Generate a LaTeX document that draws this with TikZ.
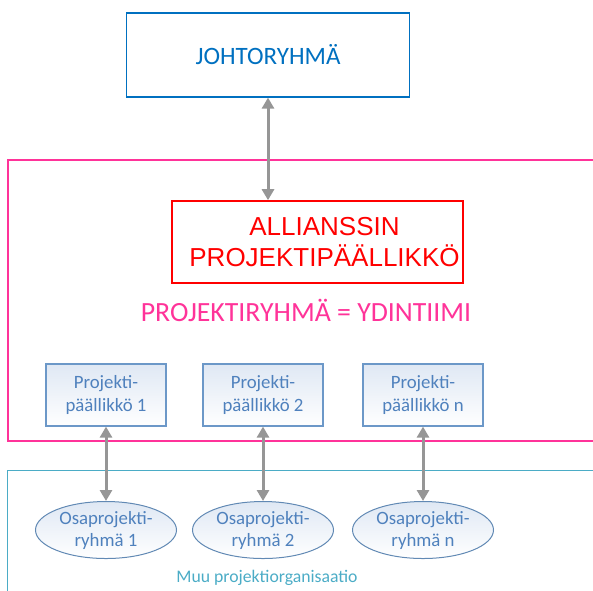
\documentclass[tikz,border=0pt]{standalone}
\usepackage{fontspec}
\setmainfont{Carlito}
\newfontfamily\arialfont{Liberation Sans}
\usetikzlibrary{shapes.geometric,arrows.meta}
\definecolor{johtoblue}{HTML}{0070C0}
\definecolor{tiimipink}{HTML}{FF3399}
\definecolor{ppline}{HTML}{6C98C8}
\definecolor{pptext}{HTML}{4F81BD}
\definecolor{ppfill}{HTML}{DFE8F4}
\definecolor{muuteal}{HTML}{4BACC6}
\definecolor{nuoligray}{HTML}{969696}
\tikzset{
  ppbox/.style={draw=ppline, line width=1.2pt, top color=ppfill, bottom color=white,
    minimum width=120pt, minimum height=62pt, align=center, text=pptext,
    font=\fontsize{18.8}{23}\selectfont},
  oprbox/.style={ellipse, draw=ppline!90!black, line width=1pt, top color=ppfill, bottom color=white,
    minimum width=141pt, minimum height=57pt, inner sep=0pt, align=center, text=pptext,
    font=\fontsize{18.8}{22}\selectfont},
  nuoli/.style={nuoligray, line width=3pt, {Triangle[length=11pt,width=12pt]}-{Triangle[length=11pt,width=12pt]}}
}
\begin{document}
\begin{tikzpicture}[x=1pt,y=-1pt]
\useasboundingbox (0,0) rectangle (593,590);
% kehykset
\draw[tiimipink, line width=1.2pt] (8,160) rectangle (610,441);
\draw[muuteal, line width=1pt] (7,470) rectangle (610,610);
\node[draw=johtoblue, line width=1.2pt, minimum width=283pt, minimum height=84pt, text=johtoblue, font=\fontsize{25}{30}\selectfont] (johto) at (268,55) {JOHTORYHMÄ};
\node[draw=red, line width=1.6pt, minimum width=291pt, minimum height=82pt, text=red, align=center, font=\arialfont\fontsize{26}{31}\selectfont] (apm) at (317.5,242) {\hspace*{14pt}ALLIANSSIN\\\hspace*{14pt}PROJEKTIPÄÄLLIKKÖ};
\node[text=tiimipink, font=\fontsize{27.8}{30}\selectfont] (ydin) at (306,310) {PROJEKTIRYHMÄ = YDINTIIMI};
\draw[nuoli](johto) -- (268,200.2);
\node[ppbox] (pp1) at (106,395) {Projekti-\\päällikkö 1};
\node[ppbox] (pp2) at (263,395) {Projekti-\\päällikkö 2};
\node[ppbox] (ppn) at (423,395) {Projekti-\\päällikkö n};
\node[oprbox] (or1) at (106,530) {Osaprojekti-\\ryhmä 1};
\node[oprbox] (or2) at (263,530) {Osaprojekti-\\ryhmä 2};
\node[oprbox] (orn) at (423,530) {Osaprojekti-\\ryhmä n};
\draw[nuoli](pp1) -- (or1);
\draw[nuoli](pp2) -- (or2);
\draw[nuoli](ppn) -- (orn);
\node[text=muuteal, font=\fontsize{17.7}{20}\selectfont] (muu) at (267,578) {Muu projektiorganisaatio};
\end{tikzpicture}
\end{document}
